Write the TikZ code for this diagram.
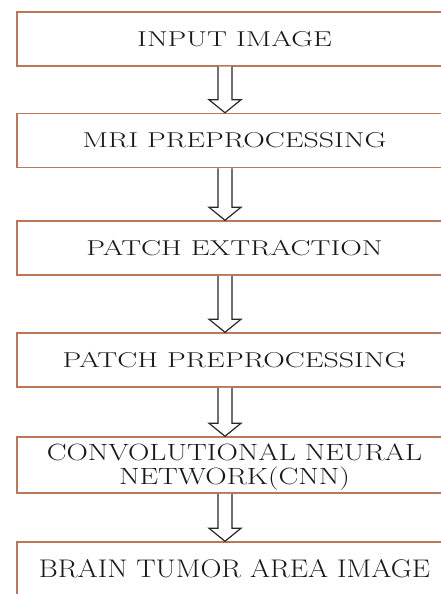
\documentclass[tikz,border=0pt]{standalone}
\usepackage{graphicx}
\usetikzlibrary{calc}
\definecolor{boxline}{RGB}{185,120,90}
\newcommand{\wide}[2][1.39]{\scalebox{#1}[1]{#2}}
\begin{document}
\begin{tikzpicture}[x=1pt, y=-1pt, line join=miter,
	stage/.style={draw=boxline, line width=1.5pt, fill=white, minimum width=435pt, minimum height=54pt, inner sep=0pt, text=black!90, font=\fontsize{21.5}{24}\selectfont},
	bigstage/.style={stage, font=\fontsize{25.5}{25}\selectfont, align=center},
	blockarr/.style={draw=black!85, line width=1.2pt, fill=white}]
	\useasboundingbox (0,0) rectangle (441,594);
	\clip (0,0) rectangle (441,594);
	\node[stage] (input) at (234.5,39) {\wide{INPUT IMAGE}};
	\node[stage] (mri) at (234.5,140.5) {\wide{MRI PREPROCESSING}};
	\node[stage] (extract) at (234.5,248) {\wide{PATCH EXTRACTION}};
	\node[stage] (patchpre) at (234.5,360) {\wide{PATCH PREPROCESSING}};
	\node[bigstage, minimum height=56pt] (cnn) at (234.5,465) {};
	\node[bigstage, font=\fontsize{23.5}{24}\selectfont, draw=none, fill=none] (cnntext) at ([yshift=-2pt]cnn.center) {\wide[1.26]{CONVOLUTIONAL NEURAL}\\\wide[1.26]{NETWORK(CNN)}};
	\node[bigstage] (output) at (234.5,569) {\wide[1.14]{BRAIN TUMOR AREA IMAGE}};
	\coordinate (axis) at (225,0);
	\foreach \a/\b in {input/mri, mri/extract, extract/patchpre, patchpre/cnn, cnn/output}
		\draw[blockarr] let \p1=(\a.south -| axis), \p2=(\b.north -| axis) in
			(\x1-7pt,\y1) -- (\x1-7pt,\y2+13pt) -- (\x1-16pt,\y2+13pt) -- (\x2,\y2) -- (\x1+16pt,\y2+13pt) -- (\x1+7pt,\y2+13pt) -- (\x1+7pt,\y1);
\end{tikzpicture}
\end{document}
